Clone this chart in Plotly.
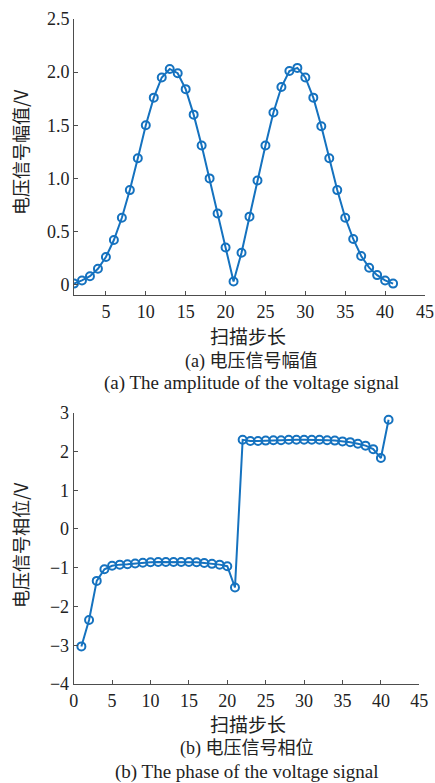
import plotly.graph_objects as go

steps = list(range(1, 42))
amplitude = [0.01, 0.04, 0.08, 0.15, 0.26, 0.42, 0.63, 0.89, 1.19, 1.50,
             1.76, 1.95, 2.03, 1.99, 1.84, 1.60, 1.31, 1.00, 0.67, 0.35,
             0.03, 0.30, 0.64, 0.98, 1.31, 1.62, 1.86, 2.01, 2.04, 1.95,
             1.76, 1.49, 1.19, 0.89, 0.63, 0.43, 0.27, 0.16, 0.09, 0.04, 0.01]
phase = [-3.03, -2.35, -1.34, -1.04, -0.95, -0.92, -0.91, -0.89, -0.87, -0.86,
         -0.85, -0.85, -0.85, -0.85, -0.85, -0.86, -0.88, -0.90, -0.92, -0.96,
         -1.51, 2.30, 2.27, 2.27, 2.28, 2.29, 2.29, 2.30, 2.30, 2.30,
         2.30, 2.30, 2.29, 2.28, 2.26, 2.24, 2.20, 2.15, 2.06, 1.83, 2.82]

top_yticks = [0, 0.5, 1.0, 1.5, 2.0, 2.5]
top_yticklabels = ["0", "0.5", "1.0", "1.5", "2.0", "2.5"]
top_xticks = [5, 10, 15, 20, 25, 30, 35, 40, 45]
bot_yticks = [-4, -3, -2, -1, 0, 1, 2, 3]
bot_xticks = [0, 5, 10, 15, 20, 25, 30, 35, 40, 45]

xlabel = "扫描步长"
ylabel_a = "电压信号幅值/V"
ylabel_b = "电压信号相位/V"
cap_a_cn = "(a) 电压信号幅值"
cap_a_en = "(a) The amplitude of the voltage signal"
cap_b_cn = "(b) 电压信号相位"
cap_b_en = "(b) The phase of the voltage signal"

W, H = 435, 783
BLUE = "#1572BF"
AX = "#4d4d4d"
SERIF = "Liberation Serif, Times New Roman, serif"
CJK = "Noto Sans CJK SC, sans-serif"
MIX = "Liberation Serif, Noto Sans CJK SC, serif"

def py(p):
    return 1 - p / H

fig = go.Figure()
mk = dict(symbol="circle-open", size=8, line=dict(width=2, color=BLUE), color=BLUE)
fig.add_trace(go.Scatter(x=steps, y=amplitude, mode="lines+markers",
                         line=dict(color=BLUE, width=2), marker=mk,
                         xaxis="x", yaxis="y", showlegend=False))
fig.add_trace(go.Scatter(x=steps, y=phase, mode="lines+markers",
                         line=dict(color=BLUE, width=2), marker=mk,
                         xaxis="x2", yaxis="y2", showlegend=False))

axcommon = dict(showline=True, linecolor=AX, linewidth=1, ticks="inside",
                ticklen=4, tickcolor=AX, showgrid=False, zeroline=False,
                tickfont=dict(family=SERIF, size=18, color="#222"), mirror=False,
                automargin=False)

fig.update_layout(
    width=W, height=H, margin=dict(l=0, r=0, t=0, b=0, pad=0, autoexpand=False),
    paper_bgcolor="white", plot_bgcolor="white",
    xaxis=dict(domain=[74 / W, 425 / W], range=[1, 45], tickvals=top_xticks,
               anchor="y", **axcommon),
    yaxis=dict(domain=[py(295.3), py(19)], range=[-0.1, 2.5], tickvals=top_yticks,
               ticktext=top_yticklabels, anchor="x", **axcommon),
    xaxis2=dict(domain=[73.7 / W, 419.3 / W], range=[0, 45], tickvals=bot_xticks,
                anchor="y2", **axcommon),
    yaxis2=dict(domain=[py(684), py(412.7)], range=[-4, 3], tickvals=bot_yticks,
                anchor="x2", **axcommon),
)

def ann(text, x, y, size, family, angle=0):
    fig.add_annotation(text=text, x=x / W, y=py(y), xref="paper", yref="paper",
                       showarrow=False, textangle=angle, xanchor="center",
                       yanchor="middle", borderpad=0,
                       font=dict(family=family, size=size, color="#222"))

ann(xlabel, 248, 335, 19, CJK)
ann(cap_a_cn, 251, 361, 18, MIX)
ann(cap_a_en, 251, 383, 19, SERIF)
ann(ylabel_a, 20, 152, 18, CJK, angle=-90)

ann(xlabel, 248, 723, 19, CJK)
ann(cap_b_cn, 247, 748, 18, MIX)
ann(cap_b_en, 247, 772, 19, SERIF)
ann(ylabel_b, 20, 545, 18, CJK, angle=-90)

fig.write_html("out.html")
